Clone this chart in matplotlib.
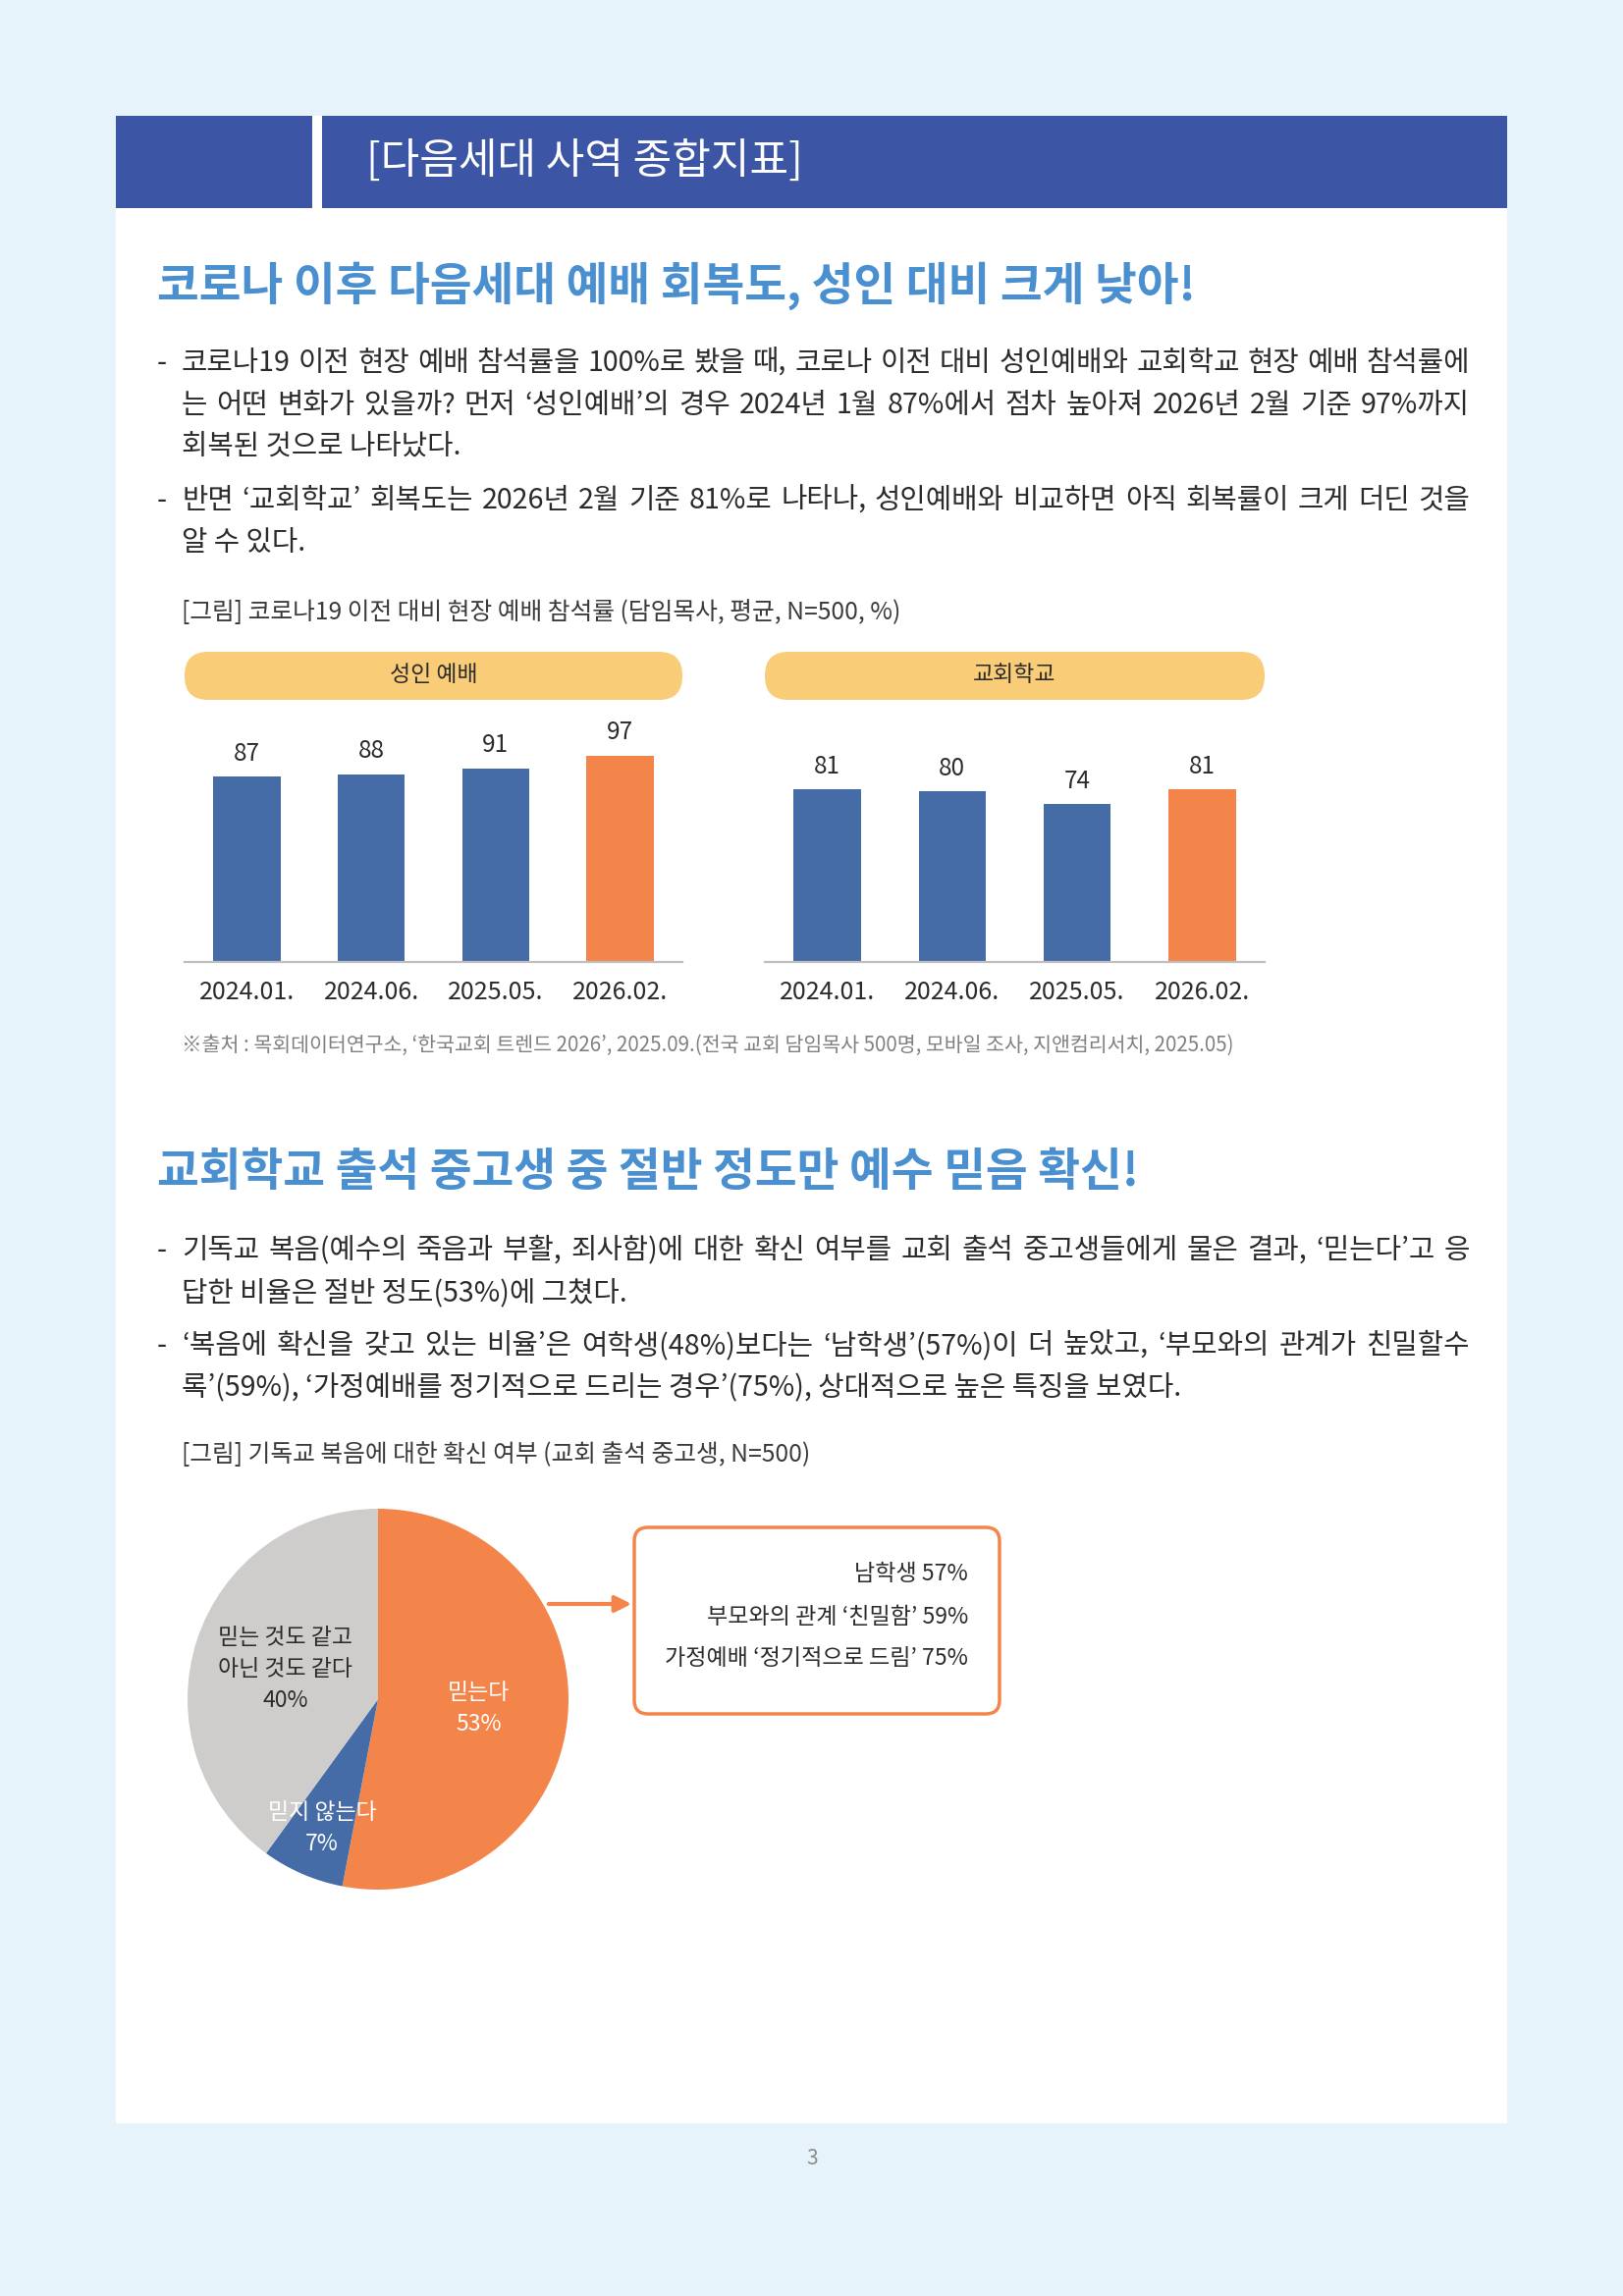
import numpy as np
import matplotlib.pyplot as plt
from matplotlib.patches import FancyBboxPatch, Rectangle

plt.rcParams['font.family'] = ['Noto Sans CJK KR', 'DejaVu Sans']

# chart data
periods = ['2024.01.', '2024.06.', '2025.05.', '2026.02.']
adult_worship = [87, 88, 91, 97]
church_school = [81, 80, 74, 81]
belief_labels = ['믿는다', '믿지 않는다', '믿는 것도 같고\n아닌 것도 같다']
belief_share = [53, 7, 40]
highlights = ['남학생 57%', '부모와의 관계 ‘친밀함’ 59%', '가정예배 ‘정기적으로 드림’ 75%']

body1 = [
    ['코로나19 이전 현장 예배 참석률을 100%로 봤을 때, 코로나 이전 대비 성인예배와 교회학교 현장 예배 참석률에',
     '는 어떤 변화가 있을까? 먼저 ‘성인예배’의 경우 2024년 1월 87%에서 점차 높아져 2026년 2월 기준 97%까지',
     '회복된 것으로 나타났다.'],
    ['반면 ‘교회학교’ 회복도는 2026년 2월 기준 81%로 나타나, 성인예배와 비교하면 아직 회복률이 크게 더딘 것을',
     '알 수 있다.'],
]
body2 = [
    ['기독교 복음(예수의 죽음과 부활, 죄사함)에 대한 확신 여부를 교회 출석 중고생들에게 물은 결과, ‘믿는다’고 응',
     '답한 비율은 절반 정도(53%)에 그쳤다.'],
    ['‘복음에 확신을 갖고 있는 비율’은 여학생(48%)보다는 ‘남학생’(57%)이 더 높았고, ‘부모와의 관계가 친밀할수',
     '록’(59%), ‘가정예배를 정기적으로 드리는 경우’(75%), 상대적으로 높은 특징을 보였다.'],
]

navy = '#3C55A4'
title_blue = '#4A8FCF'
bar_blue = '#466CA8'
orange = '#F4854A'
grey = '#CFCDCB'
pill = '#F9CC78'
ink = '#2B2B2B'

W, H = 1653, 2339
fig = plt.figure(figsize=(W / 100, H / 100), dpi=100)
fig.patch.set_facecolor('#E7F3FB')
bg = fig.add_axes([0, 0, 1, 1])
bg.set_xlim(0, W)
bg.set_ylim(H, 0)
bg.axis('off')
renderer = fig.canvas.get_renderer()

# page frame and header
bg.add_patch(Rectangle((118, 118), 1417, 2045, fc='white', ec='none'))
bg.add_patch(Rectangle((118, 118), 200, 94, fc=navy, ec='none'))
bg.add_patch(Rectangle((328, 118), 1207, 94, fc=navy, ec='none'))
bg.text(373, 165, '[다음세대 사역 종합지표]', color='white', fontsize=31, va='center')


def word_width(s, size):
    t = bg.text(0, 0, s, fontsize=size)
    w = t.get_window_extent(renderer).width
    t.remove()
    return w


# pick a body size so the widest full line just fills the column
X0, X1 = 185, 1497
full_lines = [p[i] for body in (body1, body2) for p in body for i in range(len(p) - 1)]
widest = max(word_width(l, 18) for l in full_lines)
body_size = 18 * (X1 - X0) / widest * 0.985


# justified bullet paragraphs
def paragraphs(paras, y, size, gap=43, para_gap=54, x0=X0, x1=X1):
    for lines in paras:
        bg.text(160, y, '-', fontsize=size, color=ink, va='center')
        for i, line in enumerate(lines):
            if i == len(lines) - 1:
                bg.text(x0, y, line, fontsize=size, color=ink, va='center')
            else:
                words = line.split(' ')
                widths = [word_width(w, size) for w in words]
                space = (x1 - x0 - sum(widths)) / (len(words) - 1)
                x = x0
                for w, wd in zip(words, widths):
                    bg.text(x, y, w, fontsize=size, color=ink, va='center')
                    x += wd + space
            y += gap
        y += para_gap - gap


# section 1
bg.text(160, 291, '코로나 이후 다음세대 예배 회복도, 성인 대비 크게 낮아!', color=title_blue,
        fontsize=33.5, weight='bold', va='center')
paragraphs(body1, 370, body_size)
bg.text(185, 624, '[그림] 코로나19 이전 대비 현장 예배 참석률 (담임목사, 평균, N=500, %)',
        fontsize=17.8, color='#3A3A3A', va='center')


def bar_panel(x0, x1, values, name):
    ax = fig.add_axes([x0 / W, 1 - 980 / H, (x1 - x0) / W, 260 / H])
    colors = [bar_blue] * (len(values) - 1) + [orange]
    bars = ax.bar(range(len(values)), values, width=0.54, color=colors)
    ax.set_xlim(-0.5, len(values) - 0.5)
    ax.set_ylim(0, 260 / 2.17)
    for b, v in zip(bars, values):
        ax.annotate(str(v), (b.get_x() + b.get_width() / 2, v), xytext=(0, 17),
                    textcoords='offset points', ha='center', va='center',
                    fontsize=17.5, color=ink)
    ax.set_xticks(range(len(values)), periods)
    ax.tick_params(length=0, pad=13, labelsize=18, colors=ink)
    ax.set_yticks([])
    for s in ['top', 'right', 'left']:
        ax.spines[s].set_visible(False)
    ax.spines['bottom'].set_color('#BFBFBF')
    ax.spines['bottom'].set_linewidth(1.6)
    ax.patch.set_alpha(0)
    bg.add_patch(FancyBboxPatch((x0, 664), x1 - x0, 49,
                                boxstyle='round,pad=0,rounding_size=24',
                                fc=pill, ec='none'))
    bg.text((x0 + x1) / 2, 688, name, fontsize=16.5, color=ink, ha='center', va='center')


bar_panel(188, 695, adult_worship, '성인 예배')
bar_panel(779, 1288, church_school, '교회학교')

bg.text(185, 1065, '※출처 : 목회데이터연구소, ‘한국교회 트렌드 2026’, 2025.09.(전국 교회 담임목사 500명, 모바일 조사, 지앤컴리서치, 2025.05)',
        fontsize=14.8, color='#808080', va='center')

# section 2
bg.text(160, 1194, '교회학교 출석 중고생 중 절반 정도만 예수 믿음 확신!', color=title_blue,
        fontsize=33.5, weight='bold', va='center')
paragraphs(body2, 1274, body_size)
bg.text(185, 1482, '[그림] 기독교 복음에 대한 확신 여부 (교회 출석 중고생, N=500)',
        fontsize=17.8, color='#3A3A3A', va='center')

cx, cy, r = 385, 1731, 194
pax = fig.add_axes([(cx - r) / W, 1 - (cy + r) / H, 2 * r / W, 2 * r / H])
wedges, _ = pax.pie(belief_share, colors=[orange, bar_blue, grey], startangle=90,
                    counterclock=False, radius=1)
pax.set_xlim(-1, 1)
pax.set_ylim(-1, 1)
dist = [0.53, 0.74, 0.51]
label_colors = ['white', 'white', ink]
for w, lab, val, d, c in zip(wedges, belief_labels, belief_share, dist, label_colors):
    mid = np.deg2rad((w.theta1 + w.theta2) / 2)
    pax.text(d * np.cos(mid), d * np.sin(mid), f'{lab}\n{val}%', color=c,
             fontsize=16.5, ha='center', va='center', linespacing=1.5)

bg.add_patch(FancyBboxPatch((646, 1556), 372, 190, boxstyle='round,pad=0,rounding_size=14',
                            fc='white', ec=orange, lw=2.5))
for i, s in enumerate(highlights):
    bg.text(986, 1604 + 43 * i, s, fontsize=16.6, color=ink, ha='right', va='center')
bg.annotate('', xy=(646, 1634), xytext=(556, 1634),
            arrowprops=dict(arrowstyle='-|>', color=orange, lw=3, mutation_scale=25))

bg.text(827, 2199, '3', fontsize=15, color='#8C8C8C', ha='center', va='center')

fig.savefig('out.png', dpi=100, facecolor=fig.get_facecolor())
